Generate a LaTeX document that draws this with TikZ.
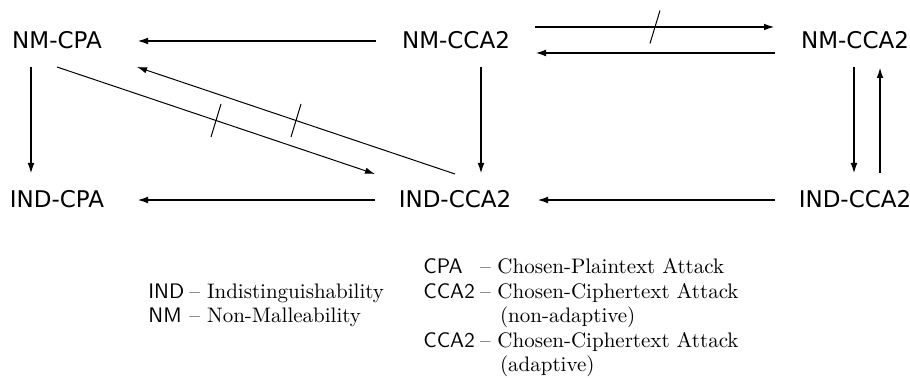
\documentclass[tikz,border=0pt]{standalone}
\usepackage{fontspec}
\setsansfont{DejaVu Sans}
\newfontfamily\lmsans{Latin Modern Sans}
\newcommand{\abbr}[1]{{\lmsans #1}}
\usetikzlibrary{arrows.meta,calc}
\begin{document}
\begin{tikzpicture}[x=0.5pt,y=-0.5pt,
  lbl/.style={inner sep=0pt, anchor=base, font=\fontsize{11.5}{13.8}\selectfont\sffamily},
  legend/.style={inner sep=0pt, anchor=base west, font=\fontsize{10.5}{12.2}\selectfont},
  thickarrow/.style={line width=1pt, -{Latex[length=5.5pt,width=3.4pt]}},
  thinarrow/.style={line width=0.5pt, -{Latex[length=5pt,width=3.2pt]}},
  slashmark/.style={line width=0.5pt}]
\useasboundingbox (0,0) rectangle (910,378);
% nodes
\node[lbl] (ncpa)  at (57,49)    {NM-CPA};
\node[lbl] (ncca)  at (456,49)   {NM-CCA2};
\node[lbl] (nccar) at (855,49)   {NM-CCA2};
\node[lbl] (icpa)  at (57,208)   {IND-CPA};
\node[lbl] (icca)  at (455,208)  {IND-CCA2};
\node[lbl] (iccar) at (855,208)  {IND-CCA2};
% horizontal arrows
\draw[thickarrow] ($(ncca.base)+(-80,-8)$) -- ($(ncpa.base)+(80,-8)$);
\draw[thickarrow] ($(icca.base)+(-80,-8)$) -- ($(icpa.base)+(80,-8)$);
\draw[thickarrow] ($(iccar.base)+(-80,-8)$) -- ($(icca.base)+(82,-8)$);
\draw[thickarrow] ($(ncca.base)+(79,-22)$) -- coordinate[midway] (s3) ($(nccar.base)+(-80,-22)$);
\draw[thickarrow] ($(nccar.base)+(-80,4)$) -- ($(ncca.base)+(79,4)$);
% vertical arrows
\draw[thickarrow] ($(ncpa.base)+(-26,18)$) -- ($(icpa.base)+(-26,-34)$);
\draw[thickarrow] ($(ncca.base)+(25,18)$) -- ($(icca.base)+(26,-34)$);
\draw[thickarrow] ($(nccar.base)+(-1,18)$) -- ($(iccar.base)+(-1,-34)$);
\draw[thickarrow] ($(iccar.base)+(25,-35)$) -- ($(nccar.base)+(25,18)$);
% diagonal arrows
\draw[thinarrow] ($(ncpa.base)+(0,18)$) -- coordinate[midway] (s1) ($(icca.base)+(-80,-34)$);
\draw[thinarrow] ($(icca.base)+(0,-34)$) -- coordinate[midway] (s2) ($(ncpa.base)+(80,18)$);
% negation slashes
\foreach \s in {s1,s2,s3}
  \draw[slashmark] ($(\s)+(-5,16.5)$) -- ($(\s)+(5,-16.5)$);
% legends
\node[legend] (legA) at (148,298.4) {\begin{tabular}[t]{@{}l@{\hspace{0.25em}}l@{}}
\abbr{IND} & -- Indistinguishability\\
\abbr{NM} & -- Non-Malleability
\end{tabular}};
\node[legend] (legB) at (423,274) {\begin{tabular}[t]{@{}l@{\hspace{0.25em}}l@{}}
\abbr{CPA} & -- Chosen-Plaintext Attack\\
\abbr{CCA2} & -- Chosen-Ciphertext Attack\\
 & \hspace{10pt}(non-adaptive)\\
\abbr{CCA2} & -- Chosen-Ciphertext Attack\\
 & \hspace{10pt}(adaptive)
\end{tabular}};
\end{tikzpicture}
\end{document}
